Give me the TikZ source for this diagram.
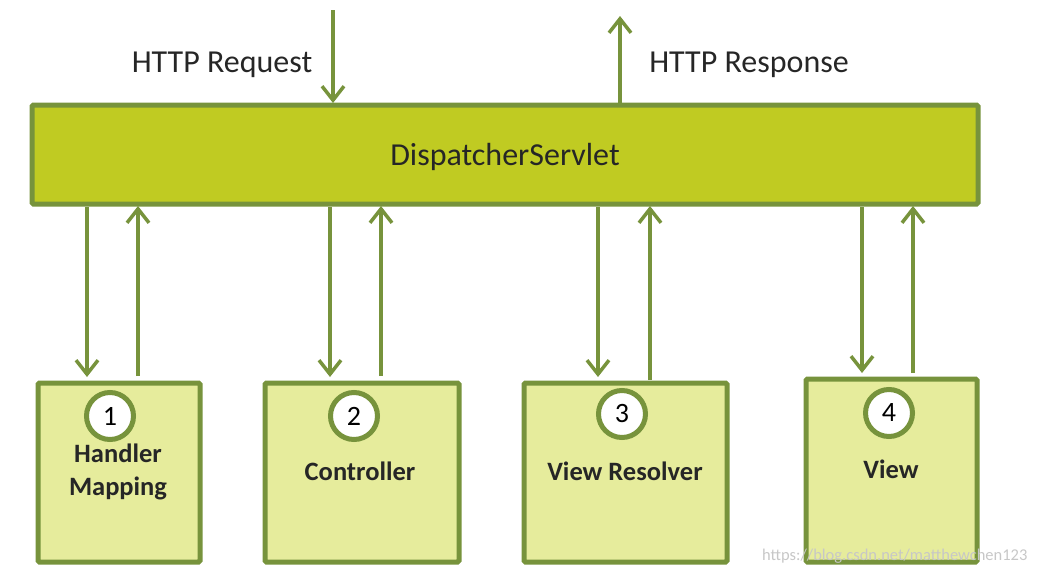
\documentclass[tikz,border=0pt]{standalone}
\usepackage{fontspec}
\setmainfont{Carlito}
\usetikzlibrary{arrows.meta}
\definecolor{olive}{HTML}{77933C}
\definecolor{mainfill}{HTML}{C0CB22}
\definecolor{subfill}{HTML}{E6EC9C}
\begin{document}
\begin{tikzpicture}[x=1pt,y=-1pt,
  mainbox/.style={draw=olive,line width=5pt,fill=mainfill,rounded corners=1.5pt},
  subbox/.style={draw=olive,line width=5pt,fill=subfill,rounded corners=1.5pt},
  numcirc/.style={circle,draw=olive,line width=5pt,fill=white,minimum size=47pt,inner sep=0pt,font=\fontsize{28}{28}\selectfont},
  lbl/.style={font=\bfseries\fontsize{26.5}{33}\selectfont,align=center,text=black!85},
  toplbl/.style={font=\fontsize{32}{36}\selectfont,text=black!85},
  flow/.style={draw=olive,line width=3.5pt,-{Straight Barb[length=14pt,width=22pt,line width=3.5pt]}}]
\useasboundingbox (0,0) rectangle (1038,576);
% main box
\path[mainbox] (32,105) rectangle (978,204);
\node[toplbl] (ds) at (505,157) {DispatcherServlet};
\coordinate (dsN1) at (333,103);
\coordinate (dsN2) at (620,103);
\coordinate (reqIn) at (333,10);
\coordinate (resOut) at (620,16);
\node[toplbl] (req) at (222,65) {HTTP Request};
\node[toplbl] (res) at (749,65) {HTTP Response};
\draw[flow] (reqIn) -- (dsN1);
\draw[flow] (dsN2) -- (resOut);
% sub boxes
\path[subbox] (38,383) rectangle (200,562);
\path[subbox] (265,383) rectangle (459,562);
\path[subbox] (524,383) rectangle (727,562);
\path[subbox] (806,379) rectangle (977,562);
\node[numcirc] (c1) at (110,416) {1};
\node[numcirc] (c2) at (354,416) {2};
\node[numcirc] (c3) at (622,414) {3};
\node[numcirc] (c4) at (889,413) {4};
\node[lbl] (l1) at (118,472) {Handler\\Mapping};
\node[lbl] (l2) at (360,471) {Controller};
\node[lbl] (l3) at (625,471) {View Resolver};
\node[lbl] (l4) at (891,469) {View};
% arrows between
\coordinate (a1t) at (87,207); \coordinate (a1b) at (87,377);
\coordinate (b1t) at (138,206); \coordinate (b1b) at (138,376);
\coordinate (a2t) at (330,207); \coordinate (a2b) at (330,377);
\coordinate (b2t) at (381,206); \coordinate (b2b) at (381,376);
\coordinate (a3t) at (598,207); \coordinate (a3b) at (598,377);
\coordinate (b3t) at (650,206); \coordinate (b3b) at (650,380);
\coordinate (a4t) at (862,207); \coordinate (a4b) at (862,373);
\coordinate (b4t) at (913,206); \coordinate (b4b) at (913,373);
\draw[flow] (a1t) -- (a1b);
\draw[flow] (b1b) -- (b1t);
\draw[flow] (a2t) -- (a2b);
\draw[flow] (b2b) -- (b2t);
\draw[flow] (a3t) -- (a3b);
\draw[flow] (b3b) -- (b3t);
\draw[flow] (a4t) -- (a4b);
\draw[flow] (b4b) -- (b4t);
% watermark
\node[font=\fontsize{16.5}{16.5}\selectfont,text=black!22,anchor=east] (wm) at (1031,556) {https://blog.csdn.net/matthewchen123};
\end{tikzpicture}
\end{document}
